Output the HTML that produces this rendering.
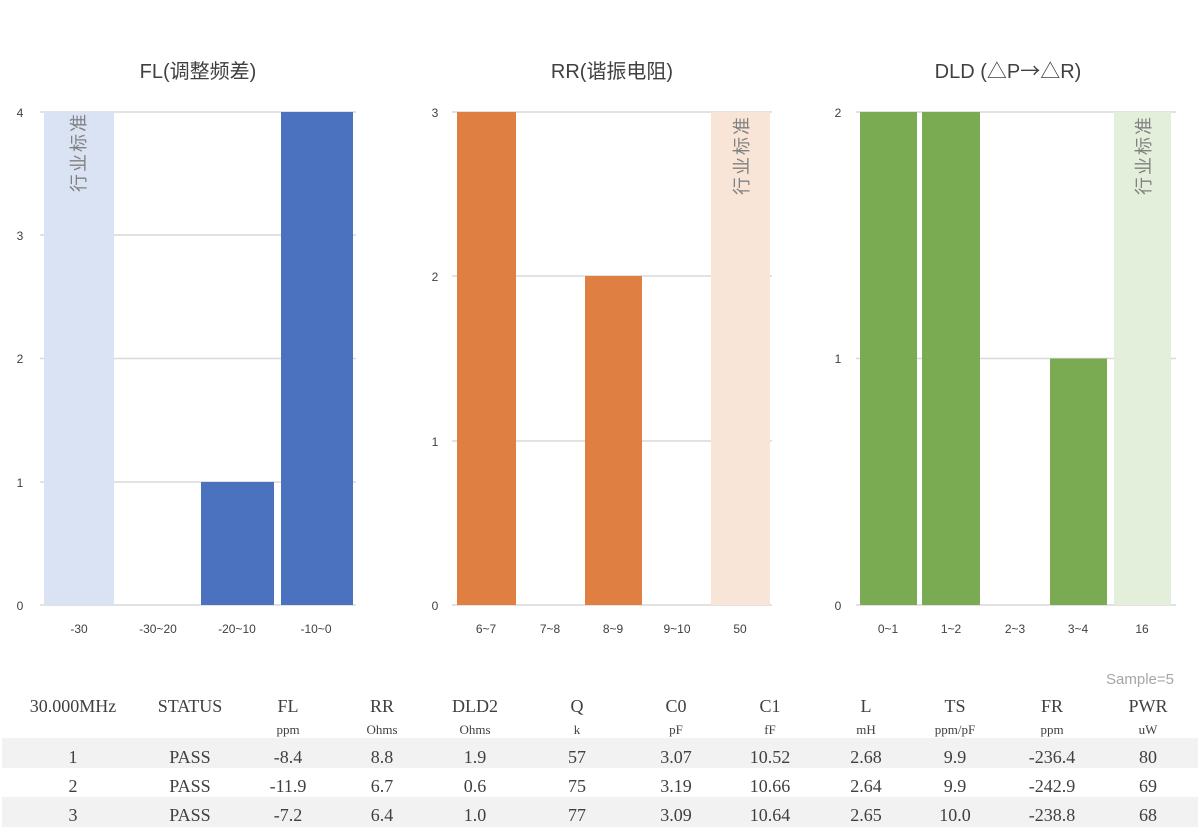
<!DOCTYPE html>
<html><head><meta charset="utf-8"><style>
body{margin:0;background:#fff;}
svg{display:block;}
.t{font-family:"Liberation Sans","Noto Sans CJK SC",sans-serif;}
.s{font-family:"Liberation Serif","Noto Serif CJK SC",serif;fill:#404040;}
</style></head><body>
<svg width="1200" height="832" xmlns="http://www.w3.org/2000/svg">
<g class="t" font-size="20" fill="#404040" text-anchor="middle">
<text x="198" y="78">FL(调整频差)</text>
<text x="612" y="78">RR(谐振电阻)</text>
<text x="1008" y="78">DLD (△P<tspan font-family="Noto Sans CJK SC">→</tspan>△R)</text>
</g>
<g stroke="#d9d9d9" stroke-width="1.5">
<line x1="40" x2="356" y1="112" y2="112"/><line x1="40" x2="356" y1="235" y2="235"/><line x1="40" x2="356" y1="358.5" y2="358.5"/><line x1="40" x2="356" y1="482" y2="482"/><line x1="40" x2="356" y1="605" y2="605"/>
<line x1="452" x2="772" y1="112" y2="112"/><line x1="452" x2="772" y1="276" y2="276"/><line x1="452" x2="772" y1="441" y2="441"/><line x1="452" x2="772" y1="605" y2="605"/>
<line x1="856" x2="1176" y1="112" y2="112"/><line x1="856" x2="1176" y1="358.5" y2="358.5"/><line x1="856" x2="1176" y1="605" y2="605"/>
</g>
<rect x="44" y="112" width="70" height="493" fill="#dae3f3"/>
<rect x="201" y="482" width="73" height="123" fill="#4a72bf"/>
<rect x="281" y="112" width="72" height="493" fill="#4a72bf"/>
<rect x="457" y="112" width="59" height="493" fill="#df8042"/>
<rect x="585" y="276" width="57" height="329" fill="#df8042"/>
<rect x="711" y="112" width="59" height="493" fill="#f8e5d8"/>
<rect x="860" y="112" width="57" height="493" fill="#7aab52"/>
<rect x="922" y="112" width="58" height="493" fill="#7aab52"/>
<rect x="1050" y="358.5" width="57" height="246.5" fill="#7aab52"/>
<rect x="1114" y="112" width="57" height="493" fill="#e3eedb"/>
<g class="t" font-size="18" fill="#808080" letter-spacing="2">
<text transform="translate(85,192) rotate(-90)">行业标准</text>
<text transform="translate(748,195) rotate(-90)">行业标准</text>
<text transform="translate(1150,195) rotate(-90)">行业标准</text>
</g>
<g class="t" font-size="12" fill="#404040" text-anchor="middle">
<text x="20" y="117">4</text><text x="20" y="240">3</text><text x="20" y="363">2</text><text x="20" y="487">1</text><text x="20" y="610">0</text>
<text x="435" y="117">3</text><text x="435" y="281">2</text><text x="435" y="446">1</text><text x="435" y="610">0</text>
<text x="838" y="117">2</text><text x="838" y="363">1</text><text x="838" y="610">0</text>
<text x="79" y="633">-30</text><text x="158" y="633">-30~20</text><text x="237" y="633">-20~10</text><text x="316" y="633">-10~0</text>
<text x="486" y="633">6~7</text><text x="550" y="633">7~8</text><text x="613" y="633">8~9</text><text x="677" y="633">9~10</text><text x="740" y="633">50</text>
<text x="888" y="633">0~1</text><text x="951" y="633">1~2</text><text x="1015" y="633">2~3</text><text x="1078" y="633">3~4</text><text x="1142" y="633">16</text>
</g>
<text class="t" x="1174" y="684" font-size="15" fill="#a6a6a6" text-anchor="end">Sample=5</text>
<rect x="2" y="738" width="1196" height="30" fill="#f2f2f2"/>
<rect x="2" y="797" width="1196" height="30" fill="#f2f2f2"/>
<g class="s" font-size="18" text-anchor="middle">
<text x="73" y="712">30.000MHz</text><text x="190" y="712">STATUS</text><text x="288" y="712">FL</text><text x="382" y="712">RR</text><text x="475" y="712">DLD2</text><text x="577" y="712">Q</text><text x="676" y="712">C0</text><text x="770" y="712">C1</text><text x="866" y="712">L</text><text x="955" y="712">TS</text><text x="1052" y="712">FR</text><text x="1148" y="712">PWR</text>
</g>
<g class="s" font-size="13" text-anchor="middle">
<text x="288" y="734">ppm</text><text x="382" y="734">Ohms</text><text x="475" y="734">Ohms</text><text x="577" y="734">k</text><text x="676" y="734">pF</text><text x="770" y="734">fF</text><text x="866" y="734">mH</text><text x="955" y="734">ppm/pF</text><text x="1052" y="734">ppm</text><text x="1148" y="734">uW</text>
</g>
<g class="s" font-size="18" text-anchor="middle">
<text x="73" y="763">1</text><text x="190" y="763">PASS</text><text x="288" y="763">-8.4</text><text x="382" y="763">8.8</text><text x="475" y="763">1.9</text><text x="577" y="763">57</text><text x="676" y="763">3.07</text><text x="770" y="763">10.52</text><text x="866" y="763">2.68</text><text x="955" y="763">9.9</text><text x="1052" y="763">-236.4</text><text x="1148" y="763">80</text>
<text x="73" y="792">2</text><text x="190" y="792">PASS</text><text x="288" y="792">-11.9</text><text x="382" y="792">6.7</text><text x="475" y="792">0.6</text><text x="577" y="792">75</text><text x="676" y="792">3.19</text><text x="770" y="792">10.66</text><text x="866" y="792">2.64</text><text x="955" y="792">9.9</text><text x="1052" y="792">-242.9</text><text x="1148" y="792">69</text>
<text x="73" y="821">3</text><text x="190" y="821">PASS</text><text x="288" y="821">-7.2</text><text x="382" y="821">6.4</text><text x="475" y="821">1.0</text><text x="577" y="821">77</text><text x="676" y="821">3.09</text><text x="770" y="821">10.64</text><text x="866" y="821">2.65</text><text x="955" y="821">10.0</text><text x="1052" y="821">-238.8</text><text x="1148" y="821">68</text>
</g>
</svg>
</body></html>
